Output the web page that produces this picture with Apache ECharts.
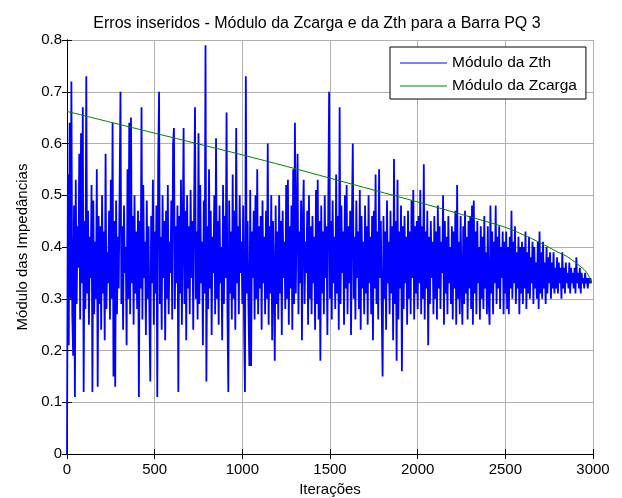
<!DOCTYPE html>
<html>
<head>
<meta charset="utf-8">
<script src="https://cdn.jsdelivr.net/npm/echarts@6/dist/echarts.min.js"></script>
<style>
  html, body { margin: 0; padding: 0; background: #fff; }
  #chart { width: 622px; height: 498px; }
</style>
</head>
<body>
<div id="chart"></div>
<script>
// Iteration spacing of the |Zth| samples below
const zthStep = 5;

// |Zth| per iteration, one row per 100 iterations
const zthValues = [
  0.00, 0.54, 0.21, 0.64, 0.30, 0.72, 0.27, 0.19, 0.48, 0.11, 0.53, 0.29, 0.44, 0.36, 0.58, 0.26, 0.62, 0.33, 0.67, 0.12,
  0.45, 0.28, 0.73, 0.31, 0.47, 0.25, 0.42, 0.34, 0.52, 0.12, 0.49, 0.27, 0.41, 0.30, 0.55, 0.13, 0.46, 0.29, 0.44, 0.24,
  0.50, 0.31, 0.43, 0.22, 0.58, 0.28, 0.39, 0.33, 0.47, 0.26, 0.53, 0.30, 0.64, 0.15, 0.45, 0.13, 0.49, 0.27, 0.42, 0.32,
  0.51, 0.70, 0.29, 0.44, 0.24, 0.48, 0.35, 0.40, 0.21, 0.55, 0.30, 0.64, 0.27, 0.65, 0.33, 0.46, 0.25, 0.50, 0.31, 0.43,
  0.28, 0.47, 0.11, 0.45, 0.32, 0.67, 0.26, 0.52, 0.34, 0.41, 0.23, 0.49, 0.30, 0.44, 0.27, 0.14, 0.46, 0.33, 0.53, 0.25,
  0.43, 0.31, 0.48, 0.11, 0.56, 0.70, 0.29, 0.42, 0.24, 0.50, 0.34, 0.45, 0.22, 0.47, 0.30, 0.52, 0.27, 0.41, 0.35, 0.49,
  0.26, 0.60, 0.63, 0.28, 0.44, 0.33, 0.48, 0.12, 0.46, 0.31, 0.53, 0.25, 0.42, 0.63, 0.29, 0.47, 0.22, 0.50, 0.32, 0.44,
  0.27, 0.51, 0.34, 0.45, 0.24, 0.48, 0.67, 0.30, 0.43, 0.26, 0.62, 0.29, 0.52, 0.33, 0.41, 0.21, 0.49, 0.31, 0.79, 0.14,
  0.44, 0.28, 0.55, 0.32, 0.47, 0.23, 0.42, 0.35, 0.50, 0.27, 0.61, 0.30, 0.45, 0.25, 0.48, 0.33, 0.40, 0.22, 0.52, 0.29,
  0.46, 0.34, 0.66, 0.28, 0.12, 0.49, 0.31, 0.43, 0.26, 0.54, 0.30, 0.47, 0.24, 0.63, 0.33, 0.44, 0.27, 0.50, 0.35, 0.41,
  0.29, 0.48, 0.25, 0.12, 0.73, 0.31, 0.45, 0.28, 0.17, 0.51, 0.17, 0.43, 0.34, 0.47, 0.26, 0.50, 0.30, 0.55, 0.27, 0.44,
  0.32, 0.46, 0.24, 0.49, 0.33, 0.42, 0.27, 0.47, 0.30, 0.60, 0.25, 0.44, 0.31, 0.50, 0.22, 0.45, 0.34, 0.18, 0.48, 0.29,
  0.43, 0.26, 0.50, 0.31, 0.45, 0.23, 0.47, 0.34, 0.41, 0.28, 0.52, 0.30, 0.53, 0.25, 0.44, 0.32, 0.48, 0.24, 0.55, 0.29,
  0.64, 0.31, 0.46, 0.58, 0.27, 0.43, 0.33, 0.49, 0.22, 0.45, 0.53, 0.29, 0.41, 0.35, 0.47, 0.25, 0.50, 0.30, 0.44, 0.27,
  0.46, 0.33, 0.42, 0.24, 0.51, 0.29, 0.53, 0.26, 0.45, 0.18, 0.48, 0.31, 0.43, 0.27, 0.50, 0.34, 0.44, 0.23, 0.47, 0.70,
  0.30, 0.45, 0.26, 0.49, 0.33, 0.42, 0.28, 0.54, 0.31, 0.46, 0.24, 0.67, 0.29, 0.48, 0.35, 0.43, 0.25, 0.50, 0.32, 0.52,
  0.27, 0.44, 0.33, 0.47, 0.23, 0.45, 0.60, 0.30, 0.42, 0.26, 0.49, 0.34, 0.43, 0.28, 0.51, 0.24, 0.46, 0.32, 0.41, 0.27,
  0.48, 0.31, 0.44, 0.25, 0.50, 0.33, 0.42, 0.27, 0.46, 0.22, 0.47, 0.32, 0.54, 0.29, 0.43, 0.26, 0.55, 0.34, 0.45, 0.28,
  0.15, 0.46, 0.30, 0.43, 0.24, 0.49, 0.33, 0.41, 0.27, 0.47, 0.31, 0.44, 0.22, 0.57, 0.29, 0.45, 0.18, 0.53, 0.26, 0.43,
  0.32, 0.48, 0.16, 0.44, 0.28, 0.46, 0.33, 0.42, 0.25, 0.47, 0.30, 0.43, 0.27, 0.49, 0.34, 0.51, 0.26, 0.44, 0.31, 0.45,
  0.28, 0.46, 0.33, 0.51, 0.27, 0.44, 0.30, 0.56, 0.26, 0.43, 0.32, 0.47, 0.21, 0.42, 0.29, 0.45, 0.34, 0.41, 0.27, 0.46,
  0.30, 0.43, 0.26, 0.48, 0.32, 0.44, 0.28, 0.41, 0.35, 0.50, 0.25, 0.45, 0.31, 0.42, 0.27, 0.46, 0.33, 0.40, 0.29, 0.44,
  0.26, 0.43, 0.32, 0.47, 0.25, 0.52, 0.30, 0.41, 0.27, 0.46, 0.33, 0.25, 0.44, 0.29, 0.47, 0.31, 0.42, 0.26, 0.45, 0.32,
  0.46, 0.28, 0.48, 0.25, 0.49, 0.31, 0.43, 0.27, 0.45, 0.33, 0.40, 0.26, 0.44, 0.30, 0.42, 0.28, 0.46, 0.32, 0.39, 0.27,
  0.44, 0.30, 0.25, 0.48, 0.31, 0.43, 0.27, 0.41, 0.33, 0.48, 0.29, 0.42, 0.32, 0.44, 0.28, 0.40, 0.34, 0.43, 0.27, 0.41,
  0.31, 0.43, 0.28, 0.40, 0.27, 0.42, 0.32, 0.47, 0.30, 0.41, 0.33, 0.44, 0.29, 0.39, 0.32, 0.42, 0.27, 0.40, 0.31, 0.41,
  0.29, 0.40, 0.32, 0.43, 0.28, 0.39, 0.31, 0.42, 0.30, 0.38, 0.33, 0.41, 0.29, 0.40, 0.32, 0.37, 0.30, 0.41, 0.28, 0.43,
  0.31, 0.39, 0.30, 0.41, 0.32, 0.37, 0.29, 0.40, 0.31, 0.38, 0.33, 0.39, 0.30, 0.37, 0.32, 0.39, 0.31, 0.36, 0.32, 0.38,
  0.31, 0.37, 0.33, 0.36, 0.30, 0.39, 0.32, 0.36, 0.31, 0.37, 0.33, 0.35, 0.32, 0.37, 0.31, 0.36, 0.33, 0.35, 0.32, 0.36,
  0.31, 0.38, 0.33, 0.35, 0.32, 0.36, 0.31, 0.35, 0.33, 0.34, 0.32, 0.35, 0.33, 0.34, 0.32, 0.34, 0.33, 0.34, 0.33
];

// |Zcarga| at selected iterations
const zcargaIter   = [0,     250,   500,   750,   1000,  1250,  1500,  1750,  2000,  2250,  2500,  2600,  2700,  2800,  2850,  2900,  2950,  2975,  2990];
const zcargaValues = [0.662, 0.641, 0.620, 0.599, 0.578, 0.556, 0.533, 0.510, 0.487, 0.463, 0.438, 0.424, 0.408, 0.390, 0.382, 0.370, 0.356, 0.345, 0.330];

// Axis ticks
const xTicks = [0, 500, 1000, 1500, 2000, 2500, 3000];
const yTicks = [0, 0.1, 0.2, 0.3, 0.4, 0.5, 0.6, 0.7, 0.8];

const FONT = '"Liberation Sans", Arial, Helvetica, sans-serif';
const chart = echarts.init(document.getElementById('chart'), null, { renderer: 'canvas' });

const zthData = zthValues.map((v, i) => [i * zthStep, v]);
const zcargaData = zcargaIter.map((it, i) => [it, zcargaValues[i]]);

const xMin = xTicks[0], xMax = xTicks[xTicks.length - 1];
const xInt = xTicks[1] - xTicks[0];
const yMin = yTicks[0], yMax = yTicks[yTicks.length - 1];
const yInt = 0.1;

const tickStyle = { show: true, inside: true, length: 5, lineStyle: { color: '#000', width: 1 } };
const axisLineStyle = { show: true, lineStyle: { color: '#000', width: 1 } };
const gridLine = { show: true, lineStyle: { color: '#b0b0b0', width: 1, type: 'solid' } };

chart.setOption({
  animation: false,
  backgroundColor: '#fff',
  textStyle: { fontFamily: FONT },
  title: {
    text: 'Erros inseridos - Módulo da Zcarga e da Zth para a Barra PQ 3',
    left: 312,
    textAlign: 'center',
    top: 11,
    textStyle: { fontFamily: FONT, fontSize: 16, fontWeight: 'normal', color: '#000' }
  },
  legend: {
    orient: 'vertical',
    left: 390,
    top: 47,
    padding: [7, 9, 4, 10],
    icon: 'rect',
    itemWidth: 47,
    itemHeight: 1,
    itemGap: 5,
    borderColor: '#000',
    borderWidth: 1,
    borderRadius: 0,
    backgroundColor: '#fff',
    data: ['Módulo da Zth', 'Módulo da Zcarga'],
    textStyle: { fontFamily: FONT, fontSize: 15.5, color: '#000', lineHeight: 18 }
  },
  grid: { left: 67, right: 29, top: 40, bottom: 44, containLabel: false, outerBoundsMode: 'none' },
  xAxis: [
    {
      type: 'value', min: xMin, max: xMax, interval: xInt,
      axisLine: axisLineStyle, axisTick: tickStyle, splitLine: gridLine,
      axisLabel: { color: '#000', fontSize: 15, fontFamily: FONT, margin: 8, formatter: v => String(v) },
      name: 'Iterações', nameLocation: 'middle', nameGap: 28,
      nameTextStyle: { color: '#000', fontSize: 15, fontFamily: FONT }
    },
    {
      type: 'value', position: 'top', min: xMin, max: xMax, interval: xInt,
      axisLine: axisLineStyle, axisTick: tickStyle, splitLine: { show: false },
      axisLabel: { show: false }
    }
  ],
  yAxis: [
    {
      type: 'value', min: yMin, max: yMax, interval: yInt,
      axisLine: axisLineStyle, axisTick: tickStyle, splitLine: gridLine,
      axisLabel: {
        color: '#000', fontSize: 15, fontFamily: FONT, margin: 5,
        formatter: v => (Math.round(v * 10) / 10).toString()
      },
      name: 'Módulo das Impedâncias', nameLocation: 'middle', nameGap: 37, nameRotate: 90,
      nameTextStyle: { color: '#000', fontSize: 15, fontFamily: FONT }
    },
    {
      type: 'value', position: 'right', min: yMin, max: yMax, interval: yInt,
      axisLine: axisLineStyle, axisTick: tickStyle, splitLine: { show: false },
      axisLabel: { show: false }
    }
  ],
  series: [
    {
      name: 'Módulo da Zth',
      type: 'line',
      data: zthData,
      xAxisIndex: 0, yAxisIndex: 0,
      symbol: 'none',
      sampling: false,
      lineStyle: { color: '#0000ff', width: 1.8 },
      itemStyle: { color: '#0000ff' },
      z: 2
    },
    {
      name: 'Módulo da Zcarga',
      type: 'line',
      data: zcargaData,
      xAxisIndex: 0, yAxisIndex: 0,
      symbol: 'none',
      smooth: 0.3,
      lineStyle: { color: '#008000', width: 1 },
      itemStyle: { color: '#008000' },
      z: 3
    }
  ]
});
</script>
</body>
</html>
